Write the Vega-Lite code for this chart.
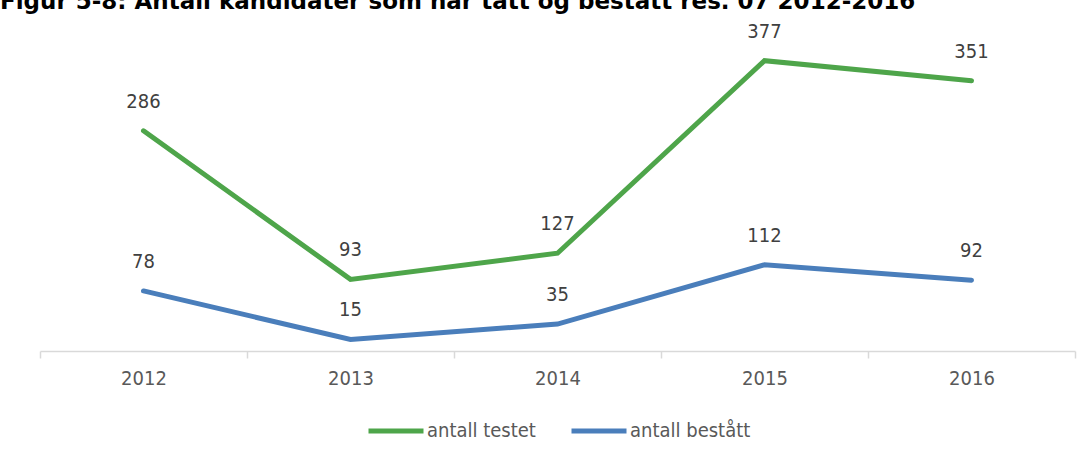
{
  "$schema": "https://vega.github.io/schema/vega-lite/v6.json",
  "autosize": "none",
  "width": 1035,
  "height": 308,
  "padding": {"left": 40, "top": 43, "right": 15, "bottom": 107},
  "background": "white",
  "config": {
    "view": {"stroke": null},
    "font": "DejaVu Sans Condensed"
  },
  "title": {
    "text": "Figur 5-8: Antall kandidater som har tatt og bestått res. 07 2012-2016",
    "anchor": "start",
    "frame": "group",
    "dx": -40,
    "offset": -10,
    "baseline": "alphabetic",
    "font": "DejaVu Sans",
    "fontSize": 23,
    "fontWeight": "bold",
    "color": "#000000"
  },
  "data": {
    "values": [
      {"year": "2012", "serie": "antall testet", "value": 286},
      {"year": "2013", "serie": "antall testet", "value": 93},
      {"year": "2014", "serie": "antall testet", "value": 127},
      {"year": "2015", "serie": "antall testet", "value": 377},
      {"year": "2016", "serie": "antall testet", "value": 351},
      {"year": "2012", "serie": "antall bestått", "value": 78},
      {"year": "2013", "serie": "antall bestått", "value": 15},
      {"year": "2014", "serie": "antall bestått", "value": 35},
      {"year": "2015", "serie": "antall bestått", "value": 112},
      {"year": "2016", "serie": "antall bestått", "value": 92}
    ]
  },
  "encoding": {
    "x": {
      "field": "year",
      "type": "ordinal",
      "scale": {"type": "band", "paddingInner": 0, "paddingOuter": 0},
      "axis": {
        "title": null,
        "labelAngle": 0,
        "tickBand": "extent",
        "domainColor": "#d9d9d9",
        "domainWidth": 1.5,
        "tickColor": "#d9d9d9",
        "tickWidth": 1.5,
        "tickSize": 7,
        "labelPadding": 10,
        "labelFontSize": 20,
        "labelColor": "#595959",
        "labelFont": "DejaVu Sans Condensed",
        "grid": false
      }
    },
    "y": {
      "field": "value",
      "type": "quantitative",
      "scale": {"domain": [0, 400], "nice": false},
      "axis": null
    }
  },
  "layer": [
    {
      "mark": {"type": "line", "strokeWidth": 5, "strokeCap": "round", "strokeJoin": "miter"},
      "encoding": {
        "color": {
          "field": "serie",
          "type": "nominal",
          "scale": {"domain": ["antall testet", "antall bestått"], "range": ["#4ea54a", "#4a7ebb"]},
          "legend": {
            "title": null,
            "orient": "none",
            "direction": "horizontal",
            "legendX": 326,
            "legendY": 358,
            "symbolType": "stroke",
            "symbolSize": 3025,
            "symbolStrokeWidth": 5,
            "labelFontSize": 20,
            "labelColor": "#595959",
            "labelFont": "DejaVu Sans Condensed",
            "labelOffset": 1,
            "columnPadding": 25
          }
        }
      }
    },
    {
      "mark": {"type": "text", "dy": -29, "baseline": "middle", "fontSize": 20, "color": "#404040", "font": "DejaVu Sans Condensed"},
      "encoding": {
        "text": {"field": "value", "type": "quantitative"}
      }
    }
  ]
}
